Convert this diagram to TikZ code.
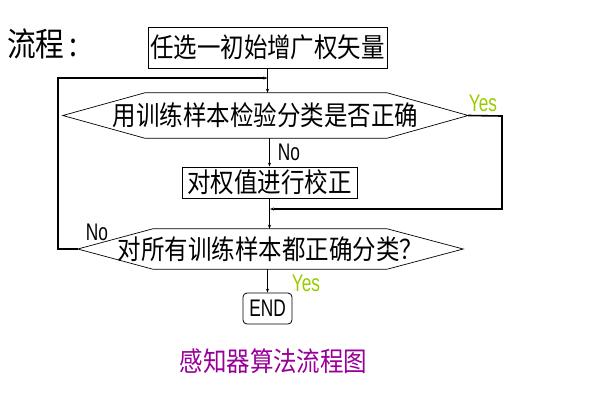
\documentclass[tikz,border=0pt]{standalone}
\usepackage{fontspec}
\setmainfont[FakeStretch=0.87]{Noto Sans CJK SC}
\newfontfamily\narrowfont[FakeStretch=0.72]{Liberation Sans}
\usetikzlibrary{calc,arrows.meta}
\definecolor{yesgreen}{HTML}{99CC00}
\definecolor{capurple}{HTML}{990099}
\tikzset{
  every picture/.style={x=1pt,y=-1pt},
  cn/.style={font=\fontsize{27}{28}\selectfont, inner sep=0pt},
  boxnode/.style={cn, draw, line width=0.8pt},
  hexnode/.style={cn},
  hexline/.style={line width=0.7pt},
  conn/.style={line width=0.9pt, -{Stealth[length=4pt,width=3pt]}},
  loopline/.style={line width=1.6pt},
  lbl/.style={font=\narrowfont\fontsize{24}{26}\selectfont, inner sep=0pt},
}
\begin{document}
\begin{tikzpicture}
\useasboundingbox (0,0) rectangle (616,392);
% title
\node[font=\fontsize{33}{34}\selectfont, inner sep=0pt, anchor=west] (title) at (7,44) {流程\hspace{5pt}:};
% boxes
\node[boxnode, minimum width=239, minimum height=41] (b1) at (267.5,47.5) {任选一初始增广权矢量};
\node[hexnode, minimum width=405, minimum height=45] (h1) at (265.5,115.5) {用训练样本检验分类是否正确};
\draw[hexline] (h1.west) -- ($(h1.north west)+(82,0)$) -- ($(h1.north east)+(-81,0)$) -- (h1.east)
  -- ($(h1.south east)+(-81,0)$) -- ($(h1.south west)+(82,0)$) -- cycle;
\node[boxnode, minimum width=175, minimum height=31] (b2) at (269.5,182.5) {对权值进行校正};
\node[hexnode, minimum width=385, minimum height=40] (h2) at (270.5,249) {对所有训练样本都正确分类？};
\draw[hexline] (h2.west) -- ($(h2.north west)+(75,0)$) -- ($(h2.north east)+(-76,0)$) -- (h2.east)
  -- ($(h2.south east)+(-76,0)$) -- ($(h2.south west)+(75,0)$) -- cycle;
\node[draw, rounded corners=4pt, line width=0.8pt, minimum width=49, minimum height=31, inner sep=0pt,
  font=\narrowfont\fontsize{24}{25}\selectfont] (end) at (267.5,308.5) {END};
% coordinates
\coordinate (j1) at (267.5,78);
\coordinate (j2) at (268.5,209);
\coordinate (lA) at (58,249);
\coordinate (lB) at (58,78);
\coordinate (rA) at (502,116);
\coordinate (rB) at (502,209);
% connectors
\draw[line width=0.9pt] (b1.south) -- (j1);
\draw[conn] (j1) -- (h1.north -| j1);
\draw[loopline] (h2.west) -- (lA) -- (lB) -- ($(j1)+(-4,0)$);
\draw[conn] ($(j1)+(-5,0)$) -- (j1);
\draw[loopline] (h1.east) -- (rA) -- (rB) -- ($(j2)+(5,0)$);
\draw[conn] ($(j2)+(6,0)$) -- ($(j2)+(1.5,0)$);
\draw[conn] (h1.south -| b2.north) -- (b2.north);
\draw[conn] (b2.south) -- (h2.north -| b2.south);
\draw[conn] (h2.south -| end.north) -- (end.north);
% labels
\node[lbl, text=yesgreen] (y1) at (483,103) {Yes};
\node[lbl] (n1) at (289,152) {No};
\node[lbl] (n2) at (97,232) {No};
\node[lbl, text=yesgreen] (y2) at (306,283) {Yes};
\node[font=\fontsize{27}{28}\selectfont, text=capurple, inner sep=0pt] (cap) at (273.5,361) {感知器算法流程图};
\end{tikzpicture}
\end{document}
